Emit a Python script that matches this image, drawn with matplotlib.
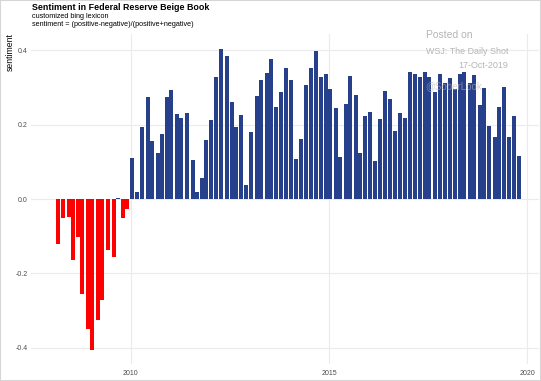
import pandas as pd
import matplotlib
matplotlib.use('Agg')
import matplotlib.pyplot as plt
from matplotlib.patches import Rectangle

plt.rcParams['font.family'] = ['Liberation Sans', 'DejaVu Sans']

# Beige Book release dates
release_dates = [
    "2008-03-05", "2008-04-16", "2008-06-11", "2008-07-23", "2008-09-03", "2008-10-15", "2008-12-03",
    "2009-01-14", "2009-03-04", "2009-04-15", "2009-06-10", "2009-07-29", "2009-09-09", "2009-10-21", "2009-12-02",
    "2010-01-13", "2010-03-03", "2010-04-14", "2010-06-09", "2010-07-14", "2010-09-08", "2010-10-20", "2010-12-01",
    "2011-01-12", "2011-03-02", "2011-04-13", "2011-06-08", "2011-07-27", "2011-09-07", "2011-10-19", "2011-11-30",
    "2012-01-11", "2012-02-29", "2012-04-11", "2012-06-06", "2012-07-18", "2012-08-29", "2012-10-10", "2012-11-28",
    "2013-01-16", "2013-03-06", "2013-04-17", "2013-06-05", "2013-07-17", "2013-09-04", "2013-10-16", "2013-12-04",
    "2014-01-15", "2014-03-05", "2014-04-16", "2014-06-04", "2014-07-16", "2014-09-03", "2014-10-15", "2014-12-03",
    "2015-01-14", "2015-03-04", "2015-04-15", "2015-06-03", "2015-07-15", "2015-09-02", "2015-10-14", "2015-12-02",
    "2016-01-13", "2016-03-02", "2016-04-13", "2016-06-01", "2016-07-13", "2016-08-31", "2016-10-19", "2016-11-30",
    "2017-01-18", "2017-03-01", "2017-04-19", "2017-05-31", "2017-07-12", "2017-09-06", "2017-10-18", "2017-11-29",
    "2018-01-17", "2018-03-07", "2018-04-18", "2018-05-30", "2018-07-18", "2018-08-29", "2018-10-17", "2018-11-28",
    "2019-01-16", "2019-03-06", "2019-04-17", "2019-05-29", "2019-07-17", "2019-08-28", "2019-10-16",
]

# sentiment = (positive-negative)/(positive+negative)
sentiment = [
    -0.122, -0.052, -0.049, -0.164, -0.101, -0.256, -0.350,
    -0.405, -0.326, -0.272, -0.137, -0.155, 0.004, -0.052, -0.027,
    0.110, 0.019, 0.193, 0.275, 0.156, 0.124, 0.174, 0.275,
    0.293, 0.229, 0.218, 0.231, 0.106, 0.019, 0.056, 0.159,
    0.212, 0.328, 0.403, 0.384, 0.261, 0.195, 0.225, 0.038,
    0.180, 0.276, 0.320, 0.339, 0.377, 0.248, 0.287, 0.352,
    0.321, 0.108, 0.161, 0.306, 0.352, 0.399, 0.328, 0.336,
    0.296, 0.244, 0.114, 0.255, 0.332, 0.281, 0.124, 0.223,
    0.235, 0.103, 0.214, 0.291, 0.269, 0.183, 0.231, 0.219,
    0.343, 0.337, 0.328, 0.342, 0.327, 0.287, 0.336, 0.313,
    0.325, 0.296, 0.337, 0.342, 0.311, 0.335, 0.252, 0.300,
    0.196, 0.166, 0.247, 0.301, 0.167, 0.224, 0.115,
]

y_ticks = [-0.4, -0.2, 0.0, 0.2, 0.4]
y_labels = ['-0.4', '-0.2', '0.0', '0.2', '0.4']
x_ticks = ['2010-01-01', '2015-01-01', '2020-01-01']
x_labels = ['2010', '2015', '2020']

dates = pd.to_datetime(release_dates)
colors = ['#FF0000' if v < 0 else '#27408B' for v in sentiment]

W, H = 541, 381
fig = plt.figure(figsize=(W / 100, H / 100), dpi=100)
ax = fig.add_axes([31 / W, 17 / H, 508 / W, 330 / H])

ax.bar(dates, sentiment, width=37, color=colors, zorder=2)

ax.set_xlim(pd.Timestamp('2007-06-30'), pd.Timestamp('2020-04-16'))
ax.set_ylim(-0.444, 0.444)
ax.set_yticks(y_ticks)
ax.set_yticklabels(y_labels)
ax.set_xticks(pd.to_datetime(x_ticks))
ax.set_xticklabels(x_labels)

ax.grid(color='#EBEBEB', lw=0.8)
ax.set_axisbelow(True)
for s in ax.spines.values():
    s.set_visible(False)
ax.tick_params(length=0, labelsize=5, labelcolor='#4d4d4d')
ax.tick_params(axis='y', pad=2.2)
ax.tick_params(axis='x', pad=4)

# titles
fig.text(32 / W, 1 - 7 / H, 'Sentiment in Federal Reserve Beige Book',
         fontsize=6.4, weight='bold', va='center')
fig.text(32 / W, 1 - 17 / H, 'customized bing lexicon', fontsize=5.2, va='center')
fig.text(32 / W, 1 - 25 / H, 'sentiment = (positive-negative)/(positive+negative)',
         fontsize=5.2, va='center')
fig.text(10 / W, 1 - 33 / H, 'sentiment', rotation=90, fontsize=6.2,
         va='top', ha='center')

# watermark
wm = '#b5b5b5'
fig.text(426 / W, 1 - 35 / H, 'Posted on', fontsize=7.5, color=wm, va='center')
fig.text(426 / W, 1 - 51 / H, 'WSJ: The Daily Shot', fontsize=6.4, color=wm, va='center')
fig.text(508 / W, 1 - 66 / H, '17-Oct-2019', fontsize=6.5, color=wm, va='center', ha='right')
fig.text(425 / W, 1 - 86 / H, '@SoberLook', fontsize=7, color=wm, alpha=0.6, va='center')

fig.add_artist(Rectangle((0, 0), 1, 1, transform=fig.transFigure, fill=False,
                         edgecolor='#d6d6d6', lw=1.5))

fig.savefig('out.png', dpi=100)
